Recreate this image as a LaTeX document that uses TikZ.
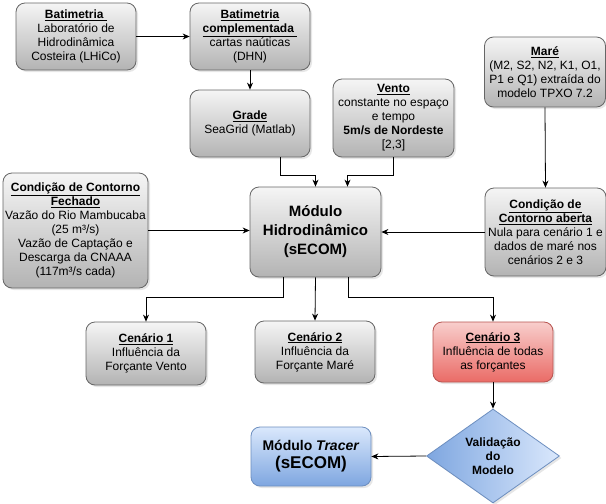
\documentclass[tikz,border=0pt]{standalone}
\usepackage{fontspec}
\setmainfont{Liberation Sans}
\usetikzlibrary{shapes.geometric,arrows.meta,shadows}
\definecolor{gtop}{HTML}{F5F5F5}
\definecolor{gbot}{HTML}{B3B3B3}
\definecolor{gstroke}{HTML}{666666}
\definecolor{rtop}{HTML}{F8CECC}
\definecolor{rbot}{HTML}{EA6B66}
\definecolor{rstroke}{HTML}{B85450}
\definecolor{btop}{HTML}{DAE8FC}
\definecolor{bbot}{HTML}{7EA6E0}
\definecolor{bstroke}{HTML}{6C8EBF}
\tikzset{
  box/.style={rectangle, rounded corners=9pt, draw=gstroke, line width=0.8pt,
    top color=gtop, bottom color=gbot, align=center, inner sep=1pt,
    font=\fontsize{12}{14}\selectfont,
    drop shadow={shadow xshift=2pt, shadow yshift=-2pt, opacity=0.2}},
  redbox/.style={box, draw=rstroke, top color=rtop, bottom color=rbot},
  bluebox/.style={box, draw=bstroke, top color=btop, bottom color=bbot},
  arr/.style={-{Stealth[length=7pt,width=6pt]}, line width=0.8pt},
}
\newcommand{\ul}[1]{\underline{\textbf{#1}}}
\begin{document}
\begin{tikzpicture}[x=1pt,y=-1pt]
\useasboundingbox (0,0) rectangle (606,504);
\node[box, minimum width=120pt, minimum height=67pt] (bat) at (76,36.5)
  {\ul{Batimetria }\\Laboratório de\\Hidrodinâmica\\Costeira (LHiCo)};
\node[box, minimum width=120pt, minimum height=67pt] (batc) at (250,36.5)
  {\ul{Batimetria}\\\ul{complementada }\\cartas naúticas\\(DHN)};
\node[box, minimum width=120pt, minimum height=67pt] (grade) at (250,123.5)
  {\ul{Grade}\\SeaGrid (Matlab)};
\node[box, minimum width=121pt, minimum height=78pt] (vento) at (393.5,118)
  {\ul{Vento}\\constante no espaço\\e tempo\\\textbf{5m/s de Nordeste}\\{}[2,3]};
\node[box, minimum width=121pt, minimum height=70pt] (mare) at (545,72)
  {\ul{Maré}\\(M2, S2, N2, K1, O1,\\P1 e Q1) extraída do\\modelo TPXO 7.2};
\node[box, minimum width=145pt, minimum height=115pt] (fech) at (75.5,230.5)
  {\ul{Condição de Contorno}\\\ul{Fechado}\\Vazão do Rio Mambucaba\\(25 m³/s)\\Vazão de Captação e\\Descarga da CNAAA\\(117m³/s cada)};
\node[box, minimum width=131pt, minimum height=90pt, font=\fontsize{15}{19}\selectfont\bfseries] (mod) at (315.5,232)
  {Módulo\\Hidrodinâmico\\(sECOM)};
\node[box, minimum width=121pt, minimum height=88pt] (aberta) at (545.5,232)
  {\ul{Condição de}\\\ul{Contorno aberta}\\Nula para cenário 1 e\\dados de maré nos\\cenários 2 e 3};
\node[box, minimum width=120pt, minimum height=63pt] (c1) at (146,353.5)
  {\ul{Cenário 1}\\Influência da\\Forçante Vento};
\node[box, minimum width=120pt, minimum height=62pt] (c2) at (315,352)
  {\ul{Cenário 2}\\Influência da\\Forçante Maré};
\node[redbox, minimum width=120pt, minimum height=60pt] (c3) at (493,352)
  {\ul{Cenário 3}\\Influência de todas\\as forçantes};
\node[diamond, aspect=1.41, draw=bstroke, line width=0.8pt, left color=bbot, right color=btop,
  minimum width=133pt, minimum height=94pt, inner sep=0pt, align=center,
  font=\fontsize{12}{14}\selectfont\bfseries,
  drop shadow={shadow xshift=2pt, shadow yshift=-2pt, opacity=0.2}] (val) at (493,456)
  {Validação\\do\\Modelo};
\node[bluebox, minimum width=120pt, minimum height=59pt, font=\fontsize{14}{18}\selectfont\bfseries] (tr) at (311,456.5)
  {Módulo \textit{Tracer}\\{\fontsize{17}{20}\selectfont (sECOM)}};
% connectors
\draw[arr] (bat.east) -- (bat.east -| batc.west);
\draw[arr] (batc.south) -- (grade.north);
\draw[arr] ([xshift=30pt]grade.south) |- ([yshift=11pt]mod.north) -- (mod.north);
\draw[arr] (vento.south) |- ([xshift=32pt,yshift=11pt]mod.north) -- ([xshift=32pt]mod.north);
\draw[arr] (mare.south) -- (aberta.north);
\draw[arr] (fech.east) -- (fech.east -| mod.west);
\draw[arr] (aberta.west) -- (aberta.west -| mod.east);
\draw[arr] ([xshift=-32pt]mod.south) |- ([yshift=24pt]c1.north) -- (c1.north);
\draw[arr] (mod.south) -- (c2.north);
\draw[arr] ([xshift=33pt]mod.south) |- ([yshift=24pt]c3.north) -- (c3.north);
\draw[arr] (c3.south) -- (val.north);
\draw[arr] (val.west) -- (tr.east);
\end{tikzpicture}
\end{document}
